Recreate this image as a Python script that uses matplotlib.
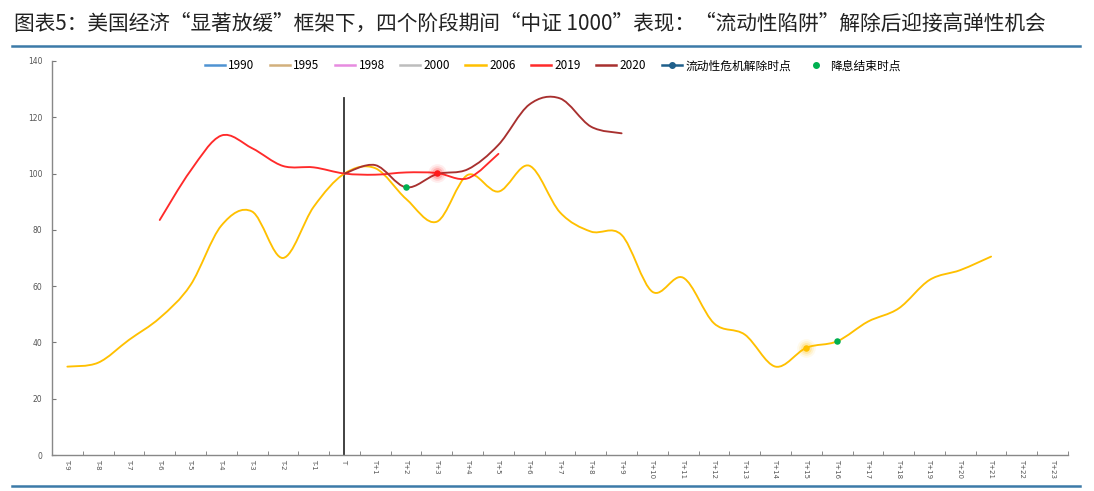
import numpy as np
import matplotlib
matplotlib.use("Agg")
from matplotlib import pyplot as plt
from matplotlib.path import Path
from matplotlib.patches import PathPatch
from matplotlib.lines import Line2D

plt.rcParams['font.family'] = ['Noto Sans CJK SC', 'DejaVu Sans']

# categories T-9 ... T+23
categories = ['T-%d' % k for k in range(9, 0, -1)] + ['T'] + ['T+%d' % k for k in range(1, 24)]

# series (start index into categories, values)
s1990 = []
s1995 = []
s1998 = []
s2000 = []
s2006_start = 0
s2006 = [31.4, 32.8, 40.9, 48.7, 60.4, 81.5, 86.5, 70.0, 88.2, 100.0,
         101.9, 91.0, 82.9, 99.5, 93.6, 102.8, 86.2, 79.4, 78.2, 58.0,
         63.0, 46.8, 42.8, 31.4, 38.1, 40.4, 47.4, 52.1, 62.2, 65.7, 70.5]
s2019_start = 3
s2019 = [83.5, 101.0, 113.5, 109.0, 102.7, 102.2, 100.0, 99.6, 100.4, 100.2, 98.3, 107.0]
s2020_start = 9
s2020 = [100.0, 103.0, 95.1, 99.8, 101.5, 110.2, 124.5, 126.7, 116.7, 114.3]

# 流动性危机解除时点 (category, value, color)
crisis_pts = [('T+3', 100.2, '#ff1a1a'), ('T+15', 38.1, '#ffc000')]
# 降息结束时点
cut_end_pts = [('T+2', 95.1), ('T+16', 40.4)]

colors = {'1990': '#4f93d2', '1995': '#d2b07c', '1998': '#e78be0', '2000': '#bdbdbd',
          '2006': '#ffc000', '2019': '#ff2a2a', '2020': '#a8302f'}


def smooth_path(xs, ys):
    # excel-like smoothed line: catmull-rom as bezier segments
    pts = np.column_stack([xs, ys]).astype(float)
    verts = [pts[0]]
    codes = [Path.MOVETO]
    n = len(pts)
    for i in range(n - 1):
        p0 = pts[i - 1] if i > 0 else pts[i]
        p1 = pts[i]
        p2 = pts[i + 1]
        p3 = pts[i + 2] if i + 2 < n else pts[i + 1]
        c1 = p1 + (p2 - p0) / 6.0
        c2 = p2 - (p3 - p1) / 6.0
        verts += [c1, c2, p2]
        codes += [Path.CURVE4] * 3
    return Path(verts, codes)


fig = plt.figure(figsize=(10.94, 4.91), dpi=100)
ax = fig.add_axes([0.0475, 0.0733, 0.9288, 0.8025])

for name, start, vals in [('2006', s2006_start, s2006), ('2019', s2019_start, s2019),
                          ('2020', s2020_start, s2020)]:
    xs = np.arange(start, start + len(vals))
    ax.add_patch(PathPatch(smooth_path(xs, vals), facecolor='none',
                           edgecolor=colors[name], lw=1.35, zorder=3, capstyle='round'))

# vertical line at T
tx = categories.index('T')
ax.plot([tx, tx], [0, 127], color='#333333', lw=1.3, zorder=2)

for cat, v, c in crisis_pts:
    x = categories.index(cat)
    for s, a in [(180, 0.08), (110, 0.12), (60, 0.2)]:
        ax.scatter([x], [v], s=s, color=c, alpha=a, lw=0, zorder=4)
    ax.scatter([x], [v], s=22, color=c, lw=0, zorder=5)

for cat, v in cut_end_pts:
    ax.scatter([categories.index(cat)], [v], s=22, color='#00b050', lw=0, zorder=5)

ax.set_xlim(-0.5, len(categories) - 0.5)
ax.set_ylim(0, 140)
ax.set_yticks(np.arange(0, 141, 20))
ax.set_xticks(np.arange(len(categories)))
ax.set_xticklabels(categories, rotation=-90, fontsize=5, color='#555555', family='DejaVu Sans')
ax.set_xticks(np.arange(len(categories)) + 0.5, minor=True)
ax.tick_params(axis='x', which='major', length=0, pad=3)
ax.tick_params(axis='x', which='minor', direction='in', length=3, color='#777777')
ax.tick_params(axis='y', direction='in', length=3, color='#777777', labelsize=5.5,
               labelcolor='#555555', pad=7)
for lab in ax.get_yticklabels():
    lab.set_family('DejaVu Sans')
for sp in ['top', 'right']:
    ax.spines[sp].set_visible(False)
for sp in ['left', 'bottom']:
    ax.spines[sp].set_color('#888888')
    ax.spines[sp].set_linewidth(1.0)

handles = [Line2D([], [], color=colors[k], lw=1.8) for k in ['1990', '1995', '1998', '2000', '2006', '2019', '2020']]
labels = ['1990', '1995', '1998', '2000', '2006', '2019', '2020']
handles.append(Line2D([], [], color='#1f5f8b', lw=1.8, marker='o', markersize=4))
labels.append('流动性危机解除时点')
handles.append(Line2D([], [], color='#00b050', lw=0, marker='o', markersize=4))
labels.append('降息结束时点')
fig.legend(handles, labels, loc='center', bbox_to_anchor=(0.505, 0.866), ncol=9,
           frameon=False, fontsize=8.5, handlelength=1.7, handletextpad=0.3,
           columnspacing=1.3)

fig.text(0.013, 0.951,
         '图表5：美国经济“显著放缓”框架下，四个阶段期间“中证 1000”表现：“流动性陷阱”解除后迎接高弹性机会',
         fontsize=14.9, color='#222222', ha='left', va='center', style='italic')

fig.add_artist(Line2D([0.011, 0.987], [0.906, 0.906], color='#3c7aa8', lw=1.8))
fig.add_artist(Line2D([0.011, 0.987], [0.010, 0.010], color='#3c7aa8', lw=1.8))

fig.savefig('out.png', dpi=100)
